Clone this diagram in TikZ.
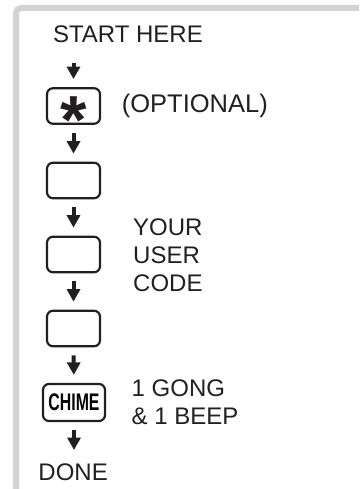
\documentclass[tikz,border=0pt]{standalone}
\usepackage{fontspec}
\setmainfont{Liberation Sans}
\usepackage{xcolor}
\usepackage{tikz}
\usetikzlibrary{arrows.meta}
\definecolor{ink}{RGB}{35,31,32}
\definecolor{framegrey}{RGB}{209,211,212}

\begin{document}
\begin{tikzpicture}[x=1pt, y=-1pt,
    key/.style={draw=ink, line width=2.2pt, rounded corners=6pt, minimum width=53pt, minimum height=35.5pt, inner sep=0pt},
    note/.style={inner sep=0pt, text=ink, font=\fontsize{24}{28}\selectfont, align=left},
    flow/.style={draw=ink, line width=4pt, -{Triangle[width=13pt,length=12.5pt]}, shorten <=8pt, shorten >=8pt}]
    \useasboundingbox (0,0) rectangle (359,489);
    \begin{scope}
        \clip (0,0) rectangle (359,489);
        \draw[framegrey, line width=6pt, rounded corners=5pt] (16,500) -- (16,8) -- (370,8);
    \end{scope}
    \node[note, anchor=base east] (start) at (203,43) {START HERE};
    \node[key] (star) at (73.5,106) {};
    \node[anchor=base, inner sep=0pt, text=ink, font=\fontsize{68}{68}\selectfont\bfseries] (asterisk) at (73.5,143.5) {*};
    \node[note, anchor=base east, font=\fontsize{25.5}{28}\selectfont] (optional) at (268,113) {(OPTIONAL)};
    \node[key] (first) at (73.5,180.5) {};
    \node[key] (second) at (73.5,254.5) {};
    \node[key] (third) at (73.5,328.5) {};
    \node[note, anchor=west] (code) at (133,255.5) {YOUR\\USER\\CODE};
    \node[key, minimum width=62pt, minimum height=37pt] (chime) at (74,402.5) {\fontsize{24}{24}\selectfont\bfseries\scalebox{0.66}[1]{CHIME}};
    \node[note, anchor=west] (gong) at (131.5,402) {1 GONG\\\& 1 BEEP};
    \node[note, anchor=base east] (done) at (108,480) {DONE};
    \draw[flow, shorten <=20pt] (start.south -| star) -- (star);
    \draw[flow] (star) -- (first);
    \draw[flow] (first) -- (second);
    \draw[flow] (second) -- (third);
    \draw[flow] (third) -- (chime);
    \draw[flow, shorten >=13pt] (chime) -- (done.north -| chime);
\end{tikzpicture}
\end{document}
